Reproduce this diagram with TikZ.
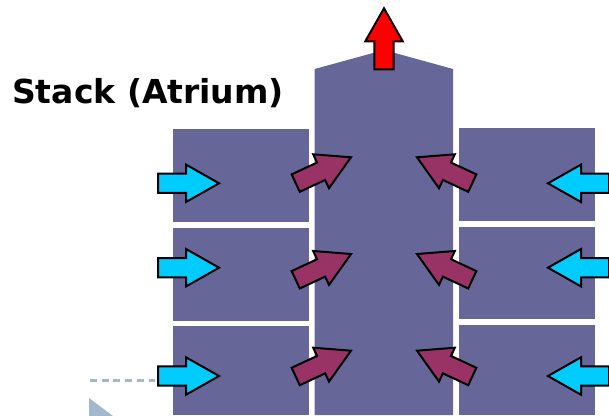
\documentclass[tikz,border=0pt]{standalone}
\usepackage{fontspec}
\setmainfont{DejaVu Sans}
\usepackage{tikz}
\definecolor{roomblue}{HTML}{666699}
\definecolor{airin}{HTML}{00CCFF}
\definecolor{airmix}{HTML}{993366}
\definecolor{guide}{HTML}{A3B8CC}
\def\blockarrow[#1](#2)(#3){\draw[#1, line width=2pt, line join=miter, shift={(#2)}, rotate=#3] (0,0) -- (-33,18.7) -- (-33,9.6) -- (-61,9.6) -- (-61,-9.6) -- (-33,-9.6) -- (-33,-18.7) -- cycle;}

\begin{document}
\begin{tikzpicture}[x=1pt, y=-1pt]
			%%%%% START %%%%%
			\clip (0, 0) rectangle (609, 415);
			
			\node[anchor=base west, inner sep=0pt, font=\bfseries\fontsize{33}{40}\selectfont] (title) at (12, 103) {Stack (Atrium)};
			
			\fill[roomblue] (314.7, 415) -- (314.7, 69) -- (384, 50) -- (453, 69) -- (453, 415) -- cycle;
			
			\fill[roomblue] (172.7, 129.3) rectangle (309, 222.3);
			\fill[roomblue] (172.7, 228) rectangle (309, 320.7);
			\fill[roomblue] (172.7, 326) rectangle (309, 415);
			
			\fill[roomblue] (458.7, 128.3) rectangle (595, 221);
			\fill[roomblue] (458.7, 226.7) rectangle (595, 319);
			\fill[roomblue] (458.7, 325) rectangle (595, 415);
			
			\blockarrow[fill=red](384, 8.3)(90)
			
			\blockarrow[fill=airin](219, 183.3)(0)
			\blockarrow[fill=airin](219, 267.7)(0)
			\blockarrow[fill=airin](219, 376)(0)
			
			\blockarrow[fill=airin](548, 183.3)(180)
			\blockarrow[fill=airin](548, 267.7)(180)
			\blockarrow[fill=airin](548, 376)(180)
			
			\blockarrow[fill=airmix](351, 157.3)(25)
			\blockarrow[fill=airmix](351, 254)(25)
			\blockarrow[fill=airmix](351, 350.7)(25)
			
			\blockarrow[fill=airmix](417, 157.3)(155)
			\blockarrow[fill=airmix](417, 254)(155)
			\blockarrow[fill=airmix](417, 350.7)(155)
			
			\draw[guide, line width=2.5pt, dash pattern=on 7pt off 4.7pt] (90, 380.7) -- (155, 380.7);
			\fill[guide] (89, 398) -- (89, 416) -- (113, 416) -- cycle;
			%%%%% END %%%%%
		\end{tikzpicture}
\end{document}
